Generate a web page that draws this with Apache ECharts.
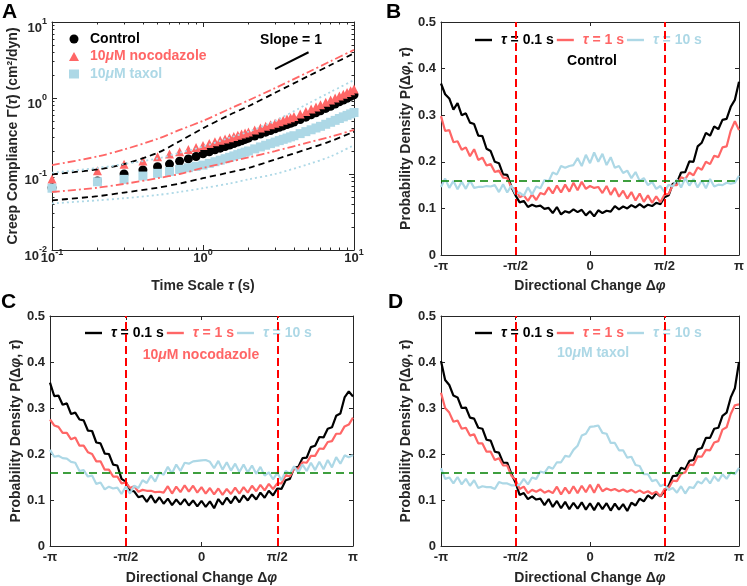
<!DOCTYPE html>
<html><head><meta charset="utf-8">
<script src="https://cdn.jsdelivr.net/npm/echarts@6/dist/echarts.min.js"></script>
<style>html,body{margin:0;padding:0;background:#fff}#c{width:747px;height:586px}</style>
</head><body><div id="c"></div>
<script>
// ---------- Panel A data ----------
const tau = [0.1,0.2,0.3,0.4,0.5,0.6,0.7,0.8,0.9,1.0,1.1,1.2,1.3,1.4,1.5,1.6,1.7,1.8,1.9,2.0,2.2,2.4,2.6,2.8,3.0,3.2,3.4,3.6,3.8,4.0,4.4,4.8,5.2,5.6,6.0,6.5,7.0,7.5,8.0,8.5,9.0,9.5,10];
const controlGamma = [0.066,0.081,0.100,0.113,0.125,0.135,0.147,0.158,0.170,0.184,0.196,0.208,0.219,0.230,0.241,0.252,0.263,0.274,0.285,0.296,0.316,0.336,0.355,0.374,0.393,0.411,0.429,0.447,0.465,0.483,0.52,0.56,0.60,0.64,0.68,0.73,0.78,0.835,0.89,0.94,0.99,1.05,1.10];
const nocoGamma = [0.086,0.110,0.134,0.148,0.169,0.183,0.196,0.210,0.224,0.238,0.252,0.265,0.277,0.289,0.301,0.312,0.324,0.335,0.346,0.357,0.380,0.402,0.424,0.446,0.467,0.488,0.509,0.530,0.551,0.572,0.614,0.664,0.714,0.764,0.814,0.876,0.938,1.00,1.06,1.12,1.18,1.245,1.31];
const taxolGamma = [0.065,0.079,0.085,0.094,0.102,0.108,0.115,0.121,0.126,0.131,0.138,0.145,0.152,0.159,0.166,0.173,0.180,0.187,0.194,0.201,0.214,0.227,0.239,0.251,0.263,0.275,0.286,0.297,0.308,0.319,0.340,0.361,0.382,0.403,0.424,0.451,0.479,0.508,0.537,0.565,0.591,0.618,0.644];
const boundTau = [0.1,0.2,0.3,0.5,0.7,1,1.5,2,3,5,7,10];
const controlUpper = [0.099,0.115,0.135,0.19,0.27,0.40,0.60,0.78,1.17,1.95,2.72,3.87];
const controlLower = [0.045,0.051,0.057,0.066,0.075,0.088,0.105,0.12,0.155,0.215,0.27,0.36];
const nocoUpper = [0.131,0.17,0.21,0.29,0.38,0.50,0.72,0.93,1.35,2.2,3.05,4.3];
const nocoLower = [0.058,0.066,0.074,0.088,0.10,0.12,0.145,0.165,0.20,0.26,0.31,0.38];
const taxolUpper = [0.104,0.12,0.135,0.16,0.19,0.23,0.30,0.36,0.50,0.85,1.2,1.72];
const taxolLower = [0.041,0.045,0.048,0.053,0.058,0.065,0.075,0.085,0.10,0.135,0.17,0.24];
const slopeTau = [3, 5];
const slopeGamma = [2.4, 4.0];

// ---------- Panels B-D data ----------
const angleDeg = [-180,-175,-170,-165,-160,-155,-150,-145,-140,-135,-130,-125,-120,-115,-110,-105,-100,-95,-90,-85,-80,-75,-70,-65,-60,-55,-50,-45,-40,-35,-30,-25,-20,-15,-10,-5,0,5,10,15,20,25,30,35,40,45,50,55,60,65,70,75,80,85,90,95,100,105,110,115,120,125,130,135,140,145,150,155,160,165,170,175,180];
const piTicks = [-180,-90,0,90,180];
const piLabels = ['-π','-π/2','0','π/2','π'];
const turnLines = [-90, 90];
const uniformDensity = 0.159;

const controlP01 = [.368,.345,.336,.312,.326,.300,.304,.284,.281,.256,.255,.228,
 .223,.200,.197,.173,.172,.146,.128,.113,.116,.103,.108,.104,
 .106,.099,.101,.090,.103,.087,.094,.091,.098,.092,.097,.085,
 .094,.083,.096,.090,.095,.093,.105,.098,.104,.100,.107,.102,
 .109,.102,.108,.105,.112,.109,.124,.128,.153,.155,.177,.178,
 .201,.200,.233,.241,.262,.256,.276,.270,.290,.292,.318,.333,.372];
const controlP1 = [.298,.266,.268,.242,.244,.226,.231,.212,.227,.204,.209,.192,
 .195,.178,.181,.166,.165,.145,.142,.124,.128,.116,.130,.118,
 .133,.130,.145,.132,.149,.134,.151,.136,.155,.139,.157,.142,
 .148,.144,.146,.133,.148,.129,.144,.125,.138,.121,.135,.117,
 .132,.114,.128,.112,.126,.113,.130,.131,.150,.150,.167,.163,
 .177,.171,.188,.183,.200,.195,.213,.210,.231,.233,.267,.287,.268];
const controlP10 = [.146,.164,.144,.159,.141,.157,.142,.160,.144,.146,.146,.148,
 .147,.150,.135,.152,.134,.149,.131,.134,.127,.145,.130,.147,
 .143,.161,.158,.177,.173,.191,.187,.191,.193,.208,.191,.215,
 .197,.220,.200,.217,.193,.210,.187,.191,.176,.181,.165,.178,
 .159,.165,.150,.157,.142,.148,.135,.151,.147,.162,.145,.165,
 .149,.163,.145,.160,.143,.163,.147,.151,.150,.155,.153,.155,.170];

const nocoP01 = [.355,.326,.327,.307,.310,.287,.290,.275,.273,.251,.250,.225,
 .223,.201,.200,.177,.175,.146,.140,.120,.119,.106,.109,.096,
 .110,.094,.106,.092,.103,.089,.101,.090,.102,.088,.099,.086,
 .098,.085,.097,.082,.102,.090,.105,.093,.108,.095,.110,.099,
 .112,.101,.116,.105,.120,.110,.125,.124,.143,.146,.170,.172,
 .191,.192,.215,.218,.237,.236,.255,.258,.283,.288,.323,.336,.325];
const nocoP1 = [.275,.262,.259,.246,.246,.232,.236,.218,.218,.204,.200,.184,
 .184,.166,.166,.151,.151,.136,.138,.126,.130,.118,.122,.120,
 .120,.117,.118,.116,.130,.114,.129,.117,.132,.118,.131,.116,
 .128,.114,.126,.112,.125,.111,.124,.113,.127,.114,.128,.116,
 .131,.119,.133,.121,.135,.124,.136,.136,.154,.151,.168,.168,
 .182,.181,.196,.196,.212,.211,.226,.228,.244,.244,.260,.264,.279];
const nocoP10 = [.209,.194,.196,.191,.190,.183,.181,.163,.165,.151,.153,.135,
 .138,.123,.129,.125,.127,.113,.129,.114,.131,.126,.143,.137,
 .153,.140,.160,.155,.172,.158,.177,.163,.181,.179,.184,.185,
 .186,.187,.183,.169,.185,.166,.182,.164,.179,.161,.177,.160,
 .175,.157,.172,.153,.160,.145,.159,.143,.163,.157,.173,.159,
 .177,.163,.181,.165,.183,.167,.187,.171,.193,.179,.197,.193,.198];

const taxolP01 = [.402,.361,.350,.327,.323,.300,.301,.279,.277,.257,.255,.231,
 .229,.205,.203,.181,.181,.157,.138,.111,.115,.102,.108,.101,
 .103,.089,.102,.085,.098,.082,.096,.080,.094,.081,.095,.079,
 .093,.078,.094,.080,.093,.077,.092,.079,.091,.076,.094,.088,
 .103,.097,.110,.103,.115,.108,.119,.131,.152,.153,.170,.167,
 .185,.187,.210,.213,.235,.235,.255,.257,.283,.290,.323,.343,.400];
const taxolP1 = [.333,.300,.290,.270,.273,.255,.257,.240,.243,.223,.223,.205,
 .205,.187,.191,.175,.175,.153,.144,.124,.129,.115,.122,.118,
 .123,.116,.120,.115,.129,.112,.127,.114,.130,.115,.131,.117,
 .133,.116,.134,.119,.125,.121,.124,.119,.123,.118,.122,.116,
 .121,.115,.119,.113,.118,.108,.124,.126,.142,.141,.157,.160,
 .177,.176,.195,.194,.209,.208,.225,.228,.253,.258,.287,.306,.308];
const taxolP10 = [.169,.146,.149,.136,.150,.134,.146,.131,.143,.126,.130,.128,
 .128,.124,.139,.136,.136,.132,.132,.133,.146,.134,.149,.146,
 .162,.159,.172,.168,.182,.182,.196,.194,.209,.218,.240,.244,
 .259,.260,.262,.246,.244,.224,.224,.208,.208,.192,.194,.176,
 .174,.156,.156,.141,.144,.130,.134,.122,.126,.116,.130,.114,
 .128,.126,.140,.136,.148,.136,.152,.141,.156,.146,.160,.156,.170];

// ---------- styling ----------
const FONT = "'Liberation Sans', Arial, Helvetica, sans-serif";
const AX = '#262626';
const RED = '#FF6666';
const BLUE = '#ADD8E6';
const tauNames = ['τ = 0.1 s', 'τ = 1 s', 'τ = 10 s'];
const tauColors = ['#000000', RED, BLUE];

const grids = [
  {left:52, top:22, width:302, height:228},
  {left:441, top:22, width:302, height:233},
  {left:50, top:316, width:303, height:231},
  {left:441, top:316, width:302, height:231}
];

const italic = {fontStyle:'italic', fontWeight:'bold', fontSize:14, fontFamily:FONT};
const nameStyle = {fontSize:14, fontWeight:'bold', color:AX, fontFamily:FONT, rich:{i:italic}};
const axisLine = {show:true, onZero:false, lineStyle:{color:AX, width:1}};
const axisTick = {show:true, inside:true, length:4, lineStyle:{color:AX, width:1}};
const minorTick = {show:true, splitNumber:9, length:2.5, lineStyle:{color:AX, width:1}};
const labelBase = {color:AX, fontSize:13, fontWeight:'bold', fontFamily:FONT};
const logRich = {
  b:{fontSize:13, fontWeight:'bold', color:AX, fontFamily:FONT, padding:[12,0,0,0]},
  s:{fontSize:9, fontWeight:'bold', color:AX, fontFamily:FONT, padding:[0,0,0,0]}
};
function logLabel(v){ const e = Math.round(Math.log10(v)); return '{b|10}{s|' + e + '}'; }

const xAxes = [], yAxes = [];
// Panel A axes
xAxes.push({type:'log', logBase:10, min:0.1, max:10, gridIndex:0, position:'bottom',
  axisLine, axisTick:{...axisTick, length:5}, minorTick, splitLine:{show:false}, minorSplitLine:{show:false},
  axisLabel:{...labelBase, formatter:logLabel, rich:logRich, margin:-10},
  name:'Time Scale {i|τ} (s)', nameLocation:'middle', nameGap:29, nameTextStyle:nameStyle});
xAxes.push({type:'log', logBase:10, min:0.1, max:10, gridIndex:0, position:'top',
  axisLine, axisTick:{...axisTick, length:5}, minorTick, splitLine:{show:false}, axisLabel:{show:false}});
yAxes.push({type:'log', logBase:10, min:0.01, max:10, gridIndex:0, position:'left',
  axisLine, axisTick:{...axisTick, length:5}, minorTick, splitLine:{show:false}, minorSplitLine:{show:false},
  axisLabel:{...labelBase, formatter:logLabel, rich:logRich, margin:5},
  name:'Creep Compliance Γ({i|τ}) (cm²/dyn)', nameLocation:'middle', nameGap:32, nameTextStyle:nameStyle});
yAxes.push({type:'log', logBase:10, min:0.01, max:10, gridIndex:0, position:'right',
  axisLine, axisTick:{...axisTick, length:5}, minorTick, splitLine:{show:false}, axisLabel:{show:false}});

const xNameGaps = [24, 25, 25];
const yNameGaps = [28, 25, 28];
for (let k = 1; k <= 3; k++) {
  xAxes.push({type:'value', min:-180, max:180, interval:90, gridIndex:k, position:'bottom',
    axisLine, axisTick, splitLine:{show:false},
    axisLabel:{...labelBase, margin:5, formatter:v => piLabels[piTicks.indexOf(v)]},
    name:'Directional Change Δ{i|φ}', nameLocation:'middle', nameGap:xNameGaps[k-1], nameTextStyle:nameStyle});
  xAxes.push({type:'value', min:-180, max:180, interval:90, gridIndex:k, position:'top',
    axisLine, axisTick, splitLine:{show:false}, axisLabel:{show:false}});
  yAxes.push({type:'value', min:0, max:0.5, interval:0.1, gridIndex:k, position:'left',
    axisLine, axisTick, splitLine:{show:false},
    axisLabel:{...labelBase, margin:5, formatter:v => String(+v.toFixed(1))},
    name:'Probability Density P(Δ{i|φ}, {i|τ})', nameLocation:'middle', nameGap:yNameGaps[k-1], nameTextStyle:nameStyle});
  yAxes.push({type:'value', min:0, max:0.5, interval:0.1, gridIndex:k, position:'right',
    axisLine, axisTick, splitLine:{show:false}, axisLabel:{show:false}});
}

const series = [];
function pairs(xs, ys){ return xs.map((x,i) => [x, ys[i]]); }
// Panel A markers
series.push({type:'scatter', name:'Control', xAxisIndex:0, yAxisIndex:0, symbol:'circle', symbolSize:9,
  itemStyle:{color:'#000000', opacity:1}, data:pairs(tau, controlGamma), z:3});
series.push({type:'scatter', name:'10μM nocodazole', xAxisIndex:0, yAxisIndex:0, symbol:'triangle', symbolSize:9,
  itemStyle:{color:RED, opacity:1}, data:pairs(tau, nocoGamma), z:3});
series.push({type:'scatter', name:'10μM taxol', xAxisIndex:0, yAxisIndex:0, symbol:'rect', symbolSize:9,
  itemStyle:{color:BLUE, opacity:1}, data:pairs(tau, taxolGamma), z:3});
// Panel A bounds
const bounds = [
  [controlUpper, '#000000', [6,4]], [controlLower, '#000000', [6,4]],
  [nocoUpper, RED, [8,3,2,3]], [nocoLower, RED, [8,3,2,3]],
  [taxolUpper, BLUE, [2,3]], [taxolLower, BLUE, [2,3]]
];
bounds.forEach((b, i) => series.push({type:'line', name:'bound' + i, xAxisIndex:0, yAxisIndex:0,
  symbol:'none', showSymbol:false, smooth:0.3, data:pairs(boundTau, b[0]),
  lineStyle:{color:b[1], width:1.8, type:b[2]}, itemStyle:{color:b[1]}, z:4}));
series.push({type:'line', name:'slope', xAxisIndex:0, yAxisIndex:0, symbol:'none', showSymbol:false,
  data:pairs(slopeTau, slopeGamma), lineStyle:{color:'#000000', width:2}, itemStyle:{color:'#000000'}, z:4});

// Panels B-D
const panels = [[controlP01, controlP1, controlP10], [nocoP01, nocoP1, nocoP10], [taxolP01, taxolP1, taxolP10]];
panels.forEach((arrs, p) => {
  const k = p + 1;
  arrs.forEach((arr, j) => {
    const s = {type:'line', name:tauNames[j], xAxisIndex:2*k, yAxisIndex:2*k, symbol:'none', showSymbol:false,
      data:pairs(angleDeg, arr), lineStyle:{color:tauColors[j], width:2.2}, itemStyle:{color:tauColors[j]}, z:3};
    if (j === 2) {
      s.markLine = {silent:true, symbol:['none','none'], label:{show:false}, animation:false,
        data:[
          ...turnLines.map(v => ({xAxis:v, lineStyle:{color:'#FF0000', type:[8,4], width:2}})),
          {yAxis:uniformDensity, lineStyle:{color:'#008000', type:[8,5], width:1.6}}
        ]};
    }
    series.push(s);
  });
});

function tauLegend(left, top){
  return {left, top, padding:0, itemGap:3, itemWidth:17, itemHeight:2.4, icon:'rect', selectedMode:false,
    data: tauNames.map((n, j) => ({name:n, icon:'rect', itemStyle:{color:tauColors[j]}, textStyle:{color:tauColors[j]}})),
    formatter: n => n.replace('τ', '{i|τ}'),
    textStyle:{fontSize:14, fontWeight:'bold', fontFamily:FONT, padding:[0,0,0,4], rich:{i:italic}}};
}
const legends = [
  {left:69, top:32, orient:'vertical', padding:0, itemGap:3.5, itemWidth:10, itemHeight:9, selectedMode:false,
   data:[{name:'Control', icon:'circle', textStyle:{color:'#000000'}}, {name:'10μM nocodazole', icon:'triangle', textStyle:{color:RED}}, {name:'10μM taxol', icon:'rect', textStyle:{color:BLUE}}],
   formatter: n => n.replace('μ', '{i|μ}'),
   textStyle:{fontSize:14, fontWeight:'bold', fontFamily:FONT, padding:[0,0,0,6], rich:{i:italic}}},
  tauLegend(475, 33), tauLegend(85, 326), tauLegend(475, 326)
];

function txt(x, y, text, fill, size, align){
  return {type:'text', x, y, z:10, style:{text, fill, align:align || 'center', verticalAlign:'middle',
    font:'bold ' + (size || 14) + 'px ' + FONT, rich:{i:{...italic, fontSize:size || 14, fill}}}};
}
const graphics = [
  txt(2, 12, 'A', '#000', 21, 'left'), txt(386, 12, 'B', '#000', 21, 'left'),
  txt(1, 302, 'C', '#000', 21, 'left'), txt(388, 302, 'D', '#000', 21, 'left'),
  txt(291, 40, 'Slope = 1', '#000'),
  txt(592, 61, 'Control', '#000'),
  txt(201, 355, '10{i|μ}M nocodazole', RED),
  txt(593, 353, '10{i|μ}M taxol', BLUE)
];

const chart = echarts.init(document.getElementById('c'), null, {renderer:'canvas'});
chart.setOption({
  animation:false,
  backgroundColor:'#ffffff',
  grid:grids.map(g => ({...g, containLabel:false})),
  xAxis:xAxes, yAxis:yAxes, legend:legends, series, graphic:graphics
});
</script></body></html>
